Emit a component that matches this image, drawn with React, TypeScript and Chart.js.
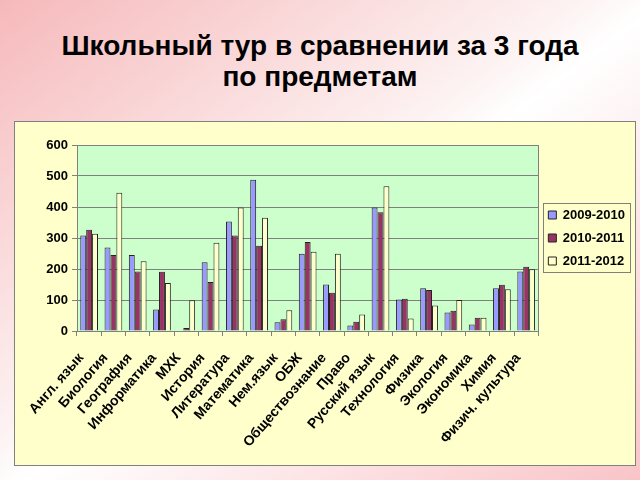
import React, { useEffect, useRef } from "react";
import { Chart, registerables } from "chart.js";

Chart.register(...registerables);

const categories = [
  "Англ. язык",
  "Биология",
  "География",
  "Информатика",
  "МХК",
  "История",
  "Литература",
  "Математика",
  "Нем.язык",
  "ОБЖ",
  "Обществознание",
  "Право",
  "Русский язык",
  "Технология",
  "Физика",
  "Экология",
  "Экономика",
  "Химия",
  "Физич. культура",
];

const series2009 = [308, 269, 245, 69, 0, 222, 353, 488, 28, 249, 150, 18, 398, 102, 138, 60, 21, 138, 192];
const series2010 = [327, 245, 192, 191, 10, 158, 308, 275, 38, 287, 123, 30, 383, 104, 132, 65, 43, 149, 207];
const series2011 = [314, 446, 225, 155, 99, 285, 398, 365, 67, 256, 249, 53, 467, 40, 82, 100, 43, 135, 199];

const seriesLabels = ["2009-2010", "2010-2011", "2011-2012"];
const titleLines = ["Школьный тур в сравнении за 3 года", "по предметам"];

const plotBgPlugin = {
  id: "plotBg",
  beforeDraw(chart: any) {
    const { ctx, chartArea } = chart;
    if (!chartArea) return;
    ctx.save();
    ctx.fillStyle = "#ccffcc";
    ctx.fillRect(chartArea.left, chartArea.top, chartArea.right - chartArea.left, chartArea.bottom - chartArea.top);
    ctx.restore();
  },
  afterDatasetsDraw(chart: any) {
    const { ctx, chartArea } = chart;
    ctx.save();
    ctx.strokeStyle = "#808080";
    ctx.lineWidth = 1;
    ctx.strokeRect(
      Math.round(chartArea.left) + 0.5,
      Math.round(chartArea.top) + 0.5,
      Math.round(chartArea.right - chartArea.left),
      Math.round(chartArea.bottom - chartArea.top)
    );
    ctx.restore();
  },
  afterDraw(chart: any) {
    const legend = chart.legend;
    if (!legend || !legend.legendHitBoxes || !legend.legendHitBoxes.length) return;
    const boxes = legend.legendHitBoxes;
    let l = Infinity, t = Infinity, r = -Infinity, b = -Infinity;
    boxes.forEach((h: any) => {
      l = Math.min(l, h.left);
      t = Math.min(t, h.top);
      r = Math.max(r, h.left + h.width);
      b = Math.max(b, h.top + h.height);
    });
    const ctx = chart.ctx;
    ctx.save();
    ctx.strokeStyle = "#808080";
    ctx.lineWidth = 1;
    ctx.strokeRect(Math.round(l - 5) + 0.5, Math.round(t - 6) + 0.5, Math.round(r - l + 10), Math.round(b - t + 10));
    ctx.restore();
  },
};

export default function App() {
  const canvasRef = useRef<HTMLCanvasElement>(null);

  useEffect(() => {
    if (!canvasRef.current) return;
    const font = { family: "'Liberation Sans', Arial, sans-serif", weight: "bold" as const, size: 13 };
    const chart = new Chart(canvasRef.current, {
      type: "bar",
      data: {
        labels: categories,
        datasets: [
          { label: seriesLabels[0], data: series2009, backgroundColor: "#9999ff", borderColor: "#222222", borderWidth: 1 },
          { label: seriesLabels[1], data: series2010, backgroundColor: "#993366", borderColor: "#222222", borderWidth: 1 },
          { label: seriesLabels[2], data: series2011, backgroundColor: "#ffffcc", borderColor: "#222222", borderWidth: 1 },
        ],
      },
      options: {
        animation: false,
        responsive: false,
        maintainAspectRatio: false,
        layout: { padding: { top: 23, left: 0, right: 0, bottom: 0 } },
        datasets: { bar: { categoryPercentage: 0.73, barPercentage: 1.0 } },
        plugins: {
          legend: {
            position: "right",
            fullSize: false,
            align: "center",
            labels: {
              boxWidth: 8,
              boxHeight: 8,
              padding: 10,
              color: "#000000",
              font: { family: "'Liberation Sans', Arial, sans-serif", weight: "bold", size: 13 },
            },
          },
          tooltip: { enabled: false },
          title: { display: false },
        },
        scales: {
          x: {
            afterFit: (scale: any) => {
              scale.height = 134;
            },
            grid: {
              offset: true,
              drawOnChartArea: false,
              drawTicks: true,
              tickLength: 5,
              color: "#808080",
            },
            border: { color: "#808080" },
            ticks: {
              autoSkip: false,
              minRotation: 49,
              maxRotation: 49,
              color: "#000000",
              padding: 14,
              labelOffset: -8,
              font: { family: "'Liberation Sans', Arial, sans-serif", weight: "bold", size: 14 },
            },
          },
          y: {
            min: 0,
            max: 600,
            afterFit: (scale: any) => {
              scale.width = 62;
            },
            grid: { color: "#808080", tickLength: 5 },
            border: { color: "#808080" },
            ticks: { stepSize: 100, color: "#000000", padding: 4, font },
          },
        },
      },
      plugins: [plotBgPlugin],
    });
    return () => chart.destroy();
  }, []);

  return (
    <div
      style={{
        position: "absolute",
        left: 0,
        top: 0,
        width: 640,
        height: 480,
        overflow: "hidden",
        background: "linear-gradient(to bottom right, #f6b9bb 0%, #fdf2f2 45%, #ffffff 52%, #f9c4c8 100%)",
      }}
    >
      <div
        style={{
          position: "absolute",
          left: 0,
          top: 30,
          width: 640,
          textAlign: "center",
          fontFamily: "'Liberation Sans', Arial, sans-serif",
          fontWeight: "bold",
          fontSize: 28,
          lineHeight: "31px",
          color: "#000000",
        }}
      >
        <div>{titleLines[0]}</div>
        <div>{titleLines[1]}</div>
      </div>
      <div
        style={{
          position: "absolute",
          left: 14,
          top: 121,
          width: 622,
          height: 345,
          boxSizing: "border-box",
          border: "1px solid #808080",
          background: "#ffffcc",
        }}
      >
        <canvas ref={canvasRef} width={620} height={343} style={{ display: "block", width: 620, height: 343 }} />
      </div>
    </div>
  );
}
